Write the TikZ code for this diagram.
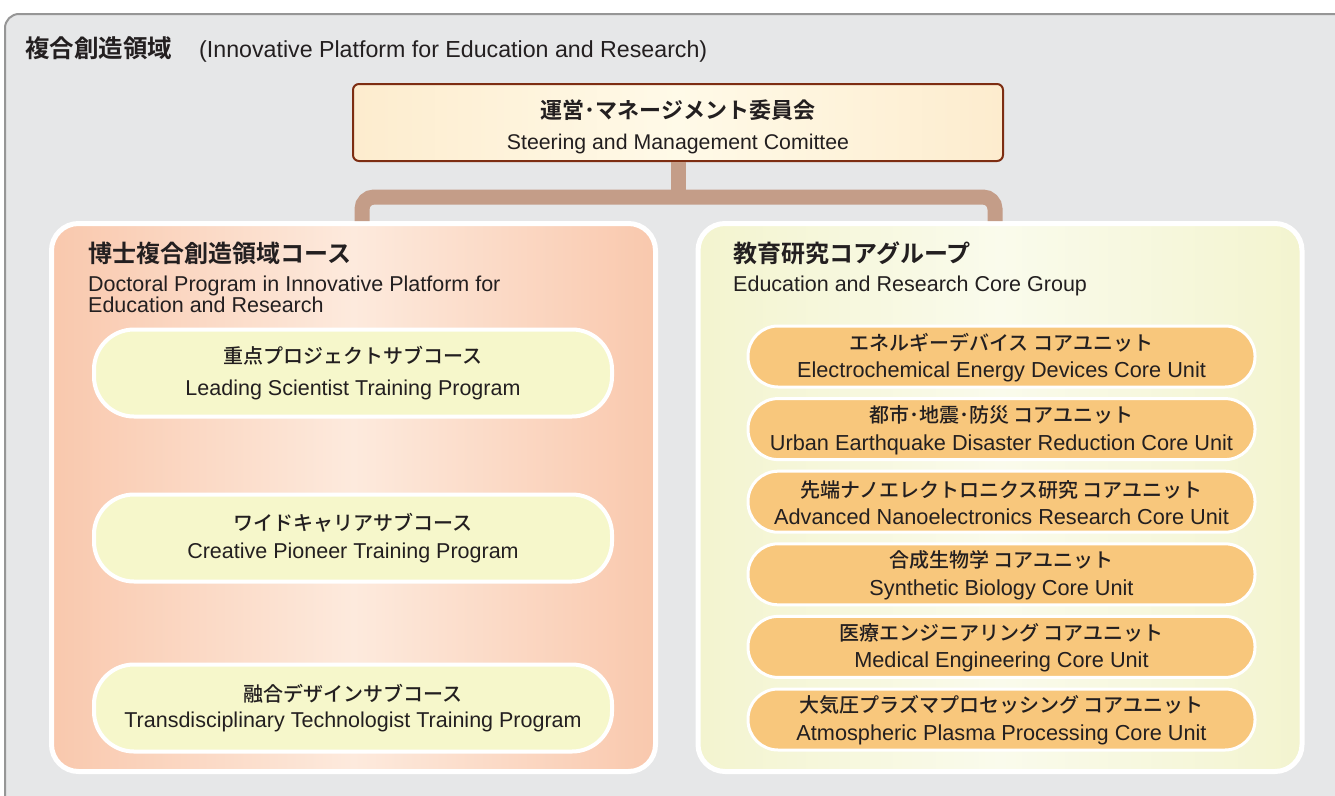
\documentclass[tikz,border=0pt]{standalone}
\usepackage{fontspec}
\setmainfont{Liberation Sans}
\newfontfamily\jpfont{Noto Sans CJK JP}[BoldFont={* Bold}]
\newfontfamily\jpmed{Noto Sans CJK JP Medium}
\usetikzlibrary{positioning}

\definecolor{bggray}{RGB}{230,231,232}
\definecolor{framegray}{RGB}{150,150,150}
\definecolor{inktext}{RGB}{35,31,32}
\definecolor{mgmtline}{RGB}{125,45,18}
\definecolor{mgmtedge}{RGB}{253,236,206}
\definecolor{mgmtmid}{RGB}{255,250,232}
\definecolor{conncol}{RGB}{196,157,136}
\definecolor{salmonedge}{RGB}{249,200,173}
\definecolor{salmonmid}{RGB}{253,234,221}
\definecolor{limeedge}{RGB}{243,244,207}
\definecolor{limemid}{RGB}{250,251,236}
\definecolor{coursefill}{RGB}{246,247,203}
\definecolor{unitfill}{RGB}{248,199,124}

\tikzset{
  mgmtbox/.style={draw=mgmtline, line width=2pt, rounded corners=6pt,
    left color=mgmtedge, right color=mgmtedge, middle color=mgmtmid,
    minimum width=650pt, minimum height=77pt, align=center, text=inktext},
  panel/.style={draw=white, line width=5pt, rounded corners=27pt,
    minimum width=604pt, minimum height=548pt},
  coursepill/.style={draw=white, line width=4pt, rounded corners=40pt, fill=coursefill,
    minimum width=518pt, minimum height=87pt, align=center, text=inktext},
  unitpill/.style={draw=white, line width=3pt, rounded corners=30pt, fill=unitfill,
    minimum width=507pt, minimum height=61pt, align=center, text=inktext},
  conn/.style={draw=conncol, line width=15pt, rounded corners=12pt},
  entext/.style={font=\fontsize{21.5}{21.5}\selectfont, text=inktext, inner sep=0pt},
  jptitle/.style={font=\jpfont\bfseries\fontsize{24}{24}\selectfont, text=inktext, inner sep=0pt}
}

\begin{document}
\begin{tikzpicture}[x=1pt, y=-1pt]
  \useasboundingbox (0,0) rectangle (1335,795);
  \fill[white] (0,0) rectangle (1335,795);
  \draw[fill=bggray, draw=framegray, line width=2pt, rounded corners=14pt] (5,14) rectangle (1350,810);

  % header
  \node[anchor=base west, text=inktext, inner sep=0pt] (head) at (25,57)
    {{\jpfont\bfseries\fontsize{24.5}{24}\selectfont 複合創造領域}\hspace{27pt}{\fontsize{23.2}{24}\selectfont (Innovative Platform for Education and Research)}};

  % committee
  \node[mgmtbox] (mgmt) at (678,122.5)
    {{\jpfont\bfseries\fontsize{22}{22}\selectfont\rule{0pt}{27pt}運営･マネージメント委員会}\\[13pt]
     {\fontsize{21.3}{21}\selectfont Steering and Management Comittee}};

  % the two panels
  \node[panel, left color=salmonedge, right color=salmonedge, middle color=salmonmid] (prog) at (353.5,497.5) {};
  \node[panel, left color=limeedge, right color=limeedge, middle color=limemid] (group) at (1000,497.5) {};

  \coordinate (lleg) at ([xshift=8.5pt]prog.north);
  \coordinate (rleg) at ([xshift=-5pt]group.north);
  \draw[conn] (mgmt.south) -- ++(0,35) coordinate (bar);
  \draw[conn] (lleg) |- (bar) -| (rleg);

  % doctoral program
  \node[jptitle, anchor=base west] (progjp) at (88,262) {博士複合創造領域コース};
  \node[entext, anchor=base west] (progen) at (88,291) {Doctoral Program in Innovative Platform for};
  \node[entext, anchor=base west] (progen2) at (88,312) {Education and Research};

  \node[coursepill] (lead) at (353,373)
    {{\jpmed\fontsize{20}{20}\selectfont 重点プロジェクトサブコース}\\[13pt]
     {\fontsize{21.5}{21}\selectfont Leading Scientist Training Program}};
  \node[coursepill] (pioneer) at (353,538)
    {{\jpmed\fontsize{20}{20}\selectfont ワイドキャリアサブコース}\\[10pt]
     {\fontsize{21.5}{21}\selectfont Creative Pioneer Training Program}};
  \node[coursepill] (trans) at (353,708)
    {{\jpmed\fontsize{20}{20}\selectfont 融合デザインサブコース}\\[7pt]
     {\fontsize{21.5}{21}\selectfont Transdisciplinary Technologist Training Program}};

  % core group
  \node[jptitle, anchor=base west] (groupjp) at (733,262) {教育研究コアグループ};
  \node[entext, anchor=base west] (groupen) at (733,291) {Education and Research Core Group};

  \foreach \jp/\en [count=\i from 0] in {
      エネルギーデバイス コアユニット/Electrochemical Energy Devices Core Unit,
      都市･地震･防災 コアユニット/Urban Earthquake Disaster Reduction Core Unit,
      先端ナノエレクトロニクス研究 コアユニット/Advanced Nanoelectronics Research Core Unit,
      合成生物学 コアユニット/Synthetic Biology Core Unit,
      医療エンジニアリング コアユニット/Medical Engineering Core Unit,
      大気圧プラズマプロセッシング コアユニット/Atmospheric Plasma Processing Core Unit}
    \node[unitpill] (unit\i) at (1001.5,356.5+72.6*\i)
      {{\jpmed\fontsize{20}{20}\selectfont \rule{0pt}{19pt}\jp}\\[9pt]
       {\fontsize{21.7}{21}\selectfont \en}};
\end{tikzpicture}
\end{document}
